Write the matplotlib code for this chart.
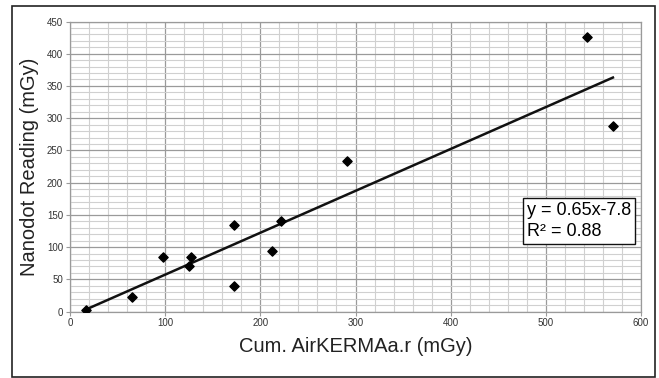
import numpy as np
import matplotlib
matplotlib.use("Agg")
import matplotlib.pyplot as plt
from matplotlib.patches import Rectangle
from matplotlib.ticker import MultipleLocator

plt.rcParams['font.family'] = ['Liberation Sans', 'DejaVu Sans']

air_kerma = [16.8, 65.4, 97.2, 124.9, 127.3, 172.8, 172.1, 212.7, 222.1, 291.0, 542.8, 570.5]
nanodot = [3.1, 22.4, 84.4, 70.8, 84.9, 134.9, 39.6, 93.2, 140.6, 232.8, 426.0, 287.5]
slope = 0.65
intercept = -7.8
eq_text = "y = 0.65x-7.8\nR² = 0.88"
x_ticks = [0, 100, 200, 300, 400, 500, 600]
y_ticks = [0, 50, 100, 150, 200, 250, 300, 350, 400, 450]

W, H = 659, 378
fig = plt.figure(figsize=(W / 100, H / 100), dpi=100)
fig.patch.set_facecolor('white')

# outer chart border
fig.add_artist(Rectangle((12 / W, 1 - 377 / H), (655 - 12) / W, (377 - 6) / H,
                         transform=fig.transFigure, fill=False,
                         edgecolor='#222222', linewidth=1.2))

x0, x1 = 70, 641
y0, y1 = 21.5, 311.5
ax = fig.add_axes([x0 / W, 1 - y1 / H, (x1 - x0) / W, (y1 - y0) / H])
ax.set_xlim(0, 600)
ax.set_ylim(0, 450)
ax.set_xticks(x_ticks)
ax.set_yticks(y_ticks)
ax.xaxis.set_minor_locator(MultipleLocator(20))
ax.yaxis.set_minor_locator(MultipleLocator(10))
ax.grid(which='major', color='#9a9a9a', linewidth=0.9)
ax.grid(which='minor', color='#d0d0d0', linewidth=0.8)
ax.set_axisbelow(True)
for s in ax.spines.values():
    s.set_color('#9a9a9a')
    s.set_linewidth(0.9)
ax.tick_params(which='major', length=3, width=0.8, color='#9a9a9a',
               labelsize=7, labelcolor='#333333', pad=2)
ax.tick_params(which='minor', length=0)

ax.scatter(air_kerma, nanodot, marker='D', s=22, color='black', zorder=3)
xs = np.array([min(air_kerma), max(air_kerma)])
ax.plot(xs, slope * xs + intercept, color='#111111', linewidth=1.8, zorder=2)

ax.set_xlabel("Cum. AirKERMAa.r (mGy)", fontsize=14.5, color='#222222', labelpad=6)
ax.set_ylabel("Nanodot Reading (mGy)", fontsize=14.5, color='#222222', labelpad=6)

ax.text(527 / W, 1 - 221 / H, eq_text, transform=fig.transFigure,
        fontsize=13, va='center', ha='left', linespacing=1.3,
        bbox=dict(boxstyle='square,pad=0.2', facecolor='white',
                  edgecolor='#111111', linewidth=1.0), zorder=5)

fig.savefig("out.png", dpi=100)
